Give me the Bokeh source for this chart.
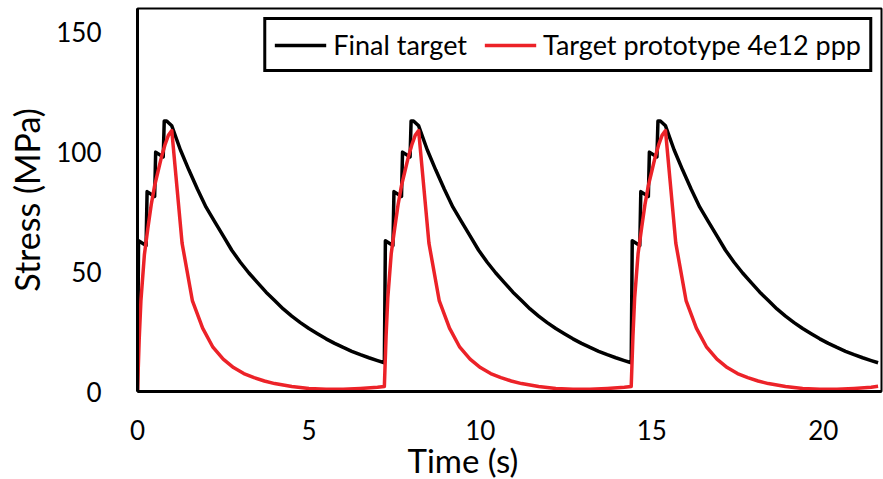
from bokeh.plotting import figure
from bokeh.models import Legend, LegendItem, FixedTicker, Range1d, Title
from bokeh.embed import file_html
from bokeh.resources import INLINE

# ---- data ----
x_ticks = [0, 5, 10, 15, 20]
y_ticks = [0, 50, 100, 150]

final_t = [
    0, 0.03, 0.25, 0.28, 0.5, 0.53, 0.75, 0.78, 0.85, 1.0, 1.25, 1.5, 1.75, 2.0, 2.25, 2.5, 2.75, 3.0,
    3.25, 3.5, 3.75, 4.0, 4.25, 4.5, 4.75, 5.0, 5.25, 5.5, 5.75, 6.0, 6.25, 6.5, 6.75, 7.0, 7.2,
    7.23, 7.45, 7.48, 7.7, 7.73, 7.95, 7.98, 8.05, 8.2, 8.45, 8.7, 8.95, 9.2, 9.45, 9.7, 9.95, 10.2,
    10.45, 10.7, 10.95, 11.2, 11.45, 11.7, 11.95, 12.2, 12.45, 12.7, 12.95, 13.2, 13.45, 13.7, 13.95, 14.2, 14.4,
    14.43, 14.65, 14.68, 14.9, 14.93, 15.15, 15.18, 15.25, 15.4, 15.65, 15.9, 16.15, 16.4, 16.65, 16.9, 17.15, 17.4,
    17.65, 17.9, 18.15, 18.4, 18.65, 18.9, 19.15, 19.4, 19.65, 19.9, 20.15, 20.4, 20.65, 20.9, 21.15, 21.4, 21.6,
]
final_v = [
    0, 63, 61, 83.5, 81.5, 100, 98, 113, 113, 111, 101, 92.5, 84.5, 77, 71, 65, 59, 54,
    49.5, 45.5, 41.5, 38, 34.5, 31.5, 28.8, 26.3, 24.1, 22, 20.1, 18.4, 16.8, 15.4, 14.1, 12.9, 12.0,
    63, 61, 83.5, 81.5, 100, 98, 113, 113, 111, 101, 92.5, 84.5, 77, 71, 65, 59, 54,
    49.5, 45.5, 41.5, 38, 34.5, 31.5, 28.8, 26.3, 24.1, 22, 20.1, 18.4, 16.8, 15.4, 14.1, 12.9, 12.0,
    63, 61, 83.5, 81.5, 100, 98, 113, 113, 111, 101, 92.5, 84.5, 77, 71, 65, 59, 54,
    49.5, 45.5, 41.5, 38, 34.5, 31.5, 28.8, 26.3, 24.1, 22, 20.1, 18.4, 16.8, 15.4, 14.1, 12.9, 12.0,
]

proto_t = [
    0, 0.05, 0.1, 0.2, 0.3, 0.4, 0.5, 0.6, 0.7, 0.8, 0.9, 1.0, 1.3, 1.6, 1.9, 2.2, 2.5, 2.8, 3.1,
    3.4, 3.7, 4.0, 4.5, 5.0, 5.5, 6.0, 6.5, 7.0, 7.2,
    7.25, 7.3, 7.4, 7.5, 7.6, 7.7, 7.8, 7.9, 8.0, 8.1, 8.2, 8.5, 8.8, 9.1, 9.4, 9.7, 10.0, 10.3,
    10.6, 10.9, 11.2, 11.7, 12.2, 12.7, 13.2, 13.7, 14.2, 14.4,
    14.45, 14.5, 14.6, 14.7, 14.8, 14.9, 15.0, 15.1, 15.2, 15.3, 15.4, 15.7, 16.0, 16.3, 16.6, 16.9, 17.2, 17.5,
    17.8, 18.1, 18.4, 18.9, 19.4, 19.9, 20.4, 20.9, 21.4, 21.6,
]
proto_v = [
    0, 22, 38, 57, 68, 78, 86, 92, 98, 103, 107, 109, 62, 38, 26.5, 18.5, 13.5, 10, 7.5,
    5.8, 4.4, 3.3, 2.1, 1.3, 0.9, 0.9, 1.3, 1.8, 2.1,
    23, 39, 57.5, 68, 78, 86, 92, 98, 103, 107, 109, 62, 38, 26.5, 18.5, 13.5, 10, 7.5,
    5.8, 4.4, 3.3, 2.1, 1.3, 0.9, 0.9, 1.3, 1.8, 2.1,
    23, 39, 57.5, 68, 78, 86, 92, 98, 103, 107, 109, 62, 38, 26.5, 18.5, 13.5, 10, 7.5,
    5.8, 4.4, 3.3, 2.1, 1.3, 0.9, 0.9, 1.3, 1.8, 2.2,
]

FONT = "Lato"
RED = "#EC2228"

p = figure(width=883, height=479, output_backend="svg", toolbar_location=None,
           x_range=Range1d(0, 21.7), y_range=Range1d(0, 160),
           min_border_left=137, min_border_right=2, min_border_top=8, min_border_bottom=88)

p.background_fill_color = "white"
p.border_fill_color = "white"
p.outline_line_color = "black"
p.outline_line_width = 2
p.xgrid.grid_line_color = None
p.ygrid.grid_line_color = None

r1 = p.line(final_t, final_v, line_color="black", line_width=3.5, line_join="round")
r2 = p.line(proto_t, proto_v, line_color=RED, line_width=3.5, line_join="round")

for ax in (p.xaxis, p.yaxis):
    ax.axis_line_color = "black"
    ax.axis_line_width = 3
    ax.major_tick_line_color = None
    ax.minor_tick_line_color = None
    ax.major_label_text_font = FONT
    ax.major_label_text_font_size = "26px"
    ax.major_label_text_color = "black"
    ax.axis_label_text_font = FONT
    ax.axis_label_text_font_size = "34px"
    ax.axis_label_text_font_style = "normal"
    ax.axis_label_text_color = "black"
    ax.major_label_standoff = 30

p.xaxis.major_label_standoff = 22
p.xaxis.ticker = FixedTicker(ticks=x_ticks)
p.yaxis.ticker = FixedTicker(ticks=y_ticks)
p.yaxis.axis_label = "Stress (MPa)"
p.yaxis.axis_label_standoff = 6

# x-axis title sits left of the frame centre in the reference
xtitle = Title(text="Time (s)", align="left", offset=270, standoff=-10,
               text_font=FONT, text_font_size="33px", text_font_style="normal",
               text_color="black")
p.add_layout(xtitle, "below")

legend = Legend(items=[LegendItem(label="Final target", renderers=[r1]),
                       LegendItem(label="Target prototype 4e12 ppp", renderers=[r2])],
                location="top_right", orientation="horizontal")
legend.label_text_font = FONT
legend.label_text_font_size = "27px"
legend.label_text_color = "black"
legend.border_line_color = "black"
legend.border_line_alpha = 1.0
legend.border_line_width = 3
legend.background_fill_alpha = 1.0
legend.glyph_width = 52
legend.label_standoff = 7
legend.spacing = 17
legend.padding = 8
legend.margin = 9
p.add_layout(legend)

open("out.html", "w").write(file_html(p, INLINE))
